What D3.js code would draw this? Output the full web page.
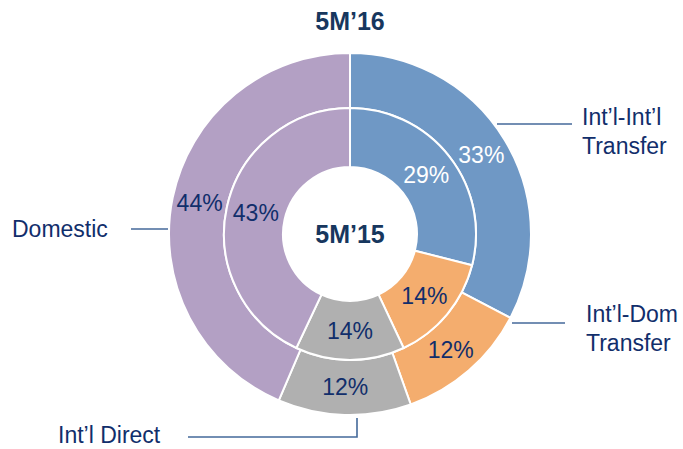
<!DOCTYPE html>
<html lang="en">
  <head>
    <meta charset="utf-8">
    <title>5M'16 vs 5M'15 donut</title>
    <script src="https://d3js.org/d3.v7.min.js"></script>
    <style>
      body { margin: 0; background: #fff; }
      svg { width: 683px; height: 449px; font-family: "Liberation Sans", Arial, sans-serif; }
    </style>
  </head>
  <body>
    <svg></svg>
    <script>
    // data
    const categories = ["Int'l-Int'l Transfer", "Int'l-Dom Transfer", "Int'l Direct", "Domestic"];
    const values16 = [33, 12, 12, 44];   // outer ring
    const values15 = [29, 14, 14, 43];   // inner ring
    const colors = ["#6f98c5", "#f4ad6e", "#b0b0b0", "#b3a0c4"];
    const labelColors = ["#ffffff", "#112e6b", "#112e6b", "#112e6b"];

    const svg = d3.select("svg");
    const cx = 350, cy = 234;
    const rHole = 67, rMid = 126, rOut = 181;
    const navy = "#112e6b";

    const pie = d3.pie().sort(null).value(d => d);
    const arcIn = d3.arc().innerRadius(rHole).outerRadius(rMid);
    const arcOut = d3.arc().innerRadius(rMid).outerRadius(rOut);

    const g = svg.append("g").attr("transform", `translate(${cx},${cy})`);

    // draw both rings
    [[values16, arcOut], [values15, arcIn]].forEach(([vals, arc]) => {
      const slices = pie(vals);
      g.selectAll(null)
        .data(slices)
        .enter()
        .append("path")
        .attr("d", arc)
        .attr("fill", (d, i) => colors[i])
        .attr("stroke", "#fff")
        .attr("stroke-width", 2);

      g.selectAll(null)
        .data(slices)
        .enter()
        .append("text")
        .attr("transform", d => `translate(${arc.centroid(d)})`)
        .attr("text-anchor", "middle")
        .attr("dy", "0.35em")
        .attr("font-size", 23)
        .attr("fill", (d, i) => labelColors[i])
        .text(d => d.data + "%");
    });

    // titles
    svg.append("text")
      .attr("x", cx).attr("y", 30)
      .attr("text-anchor", "middle")
      .attr("font-size", 25).attr("font-weight", "bold")
      .attr("fill", "#17375e")
      .text("5M\u201916");

    svg.append("text")
      .attr("x", cx).attr("y", cy).attr("dy", "0.35em")
      .attr("text-anchor", "middle")
      .attr("font-size", 25).attr("font-weight", "bold")
      .attr("fill", "#17375e")
      .text("5M\u201915");

    // leader lines + category labels
    const lineColor = "#44699a";
    const leaders = [
      { pts: [[497, 124], [572, 124]], lines: ["Int\u2019l-Int\u2019l", "Transfer"], x: 582, y: 125 },
      { pts: [[512, 323], [565, 323]], lines: ["Int\u2019l-Dom", "Transfer"], x: 586, y: 322 },
      { pts: [[168, 229], [131, 229]], lines: ["Domestic"], x: 12, y: 237 },
      { pts: [[357, 418], [357, 437], [188, 437]], lines: ["Int\u2019l Direct"], x: 58, y: 443 }
    ];

    leaders.forEach(l => {
      svg.append("path")
        .attr("d", d3.line()(l.pts))
        .attr("fill", "none")
        .attr("stroke", lineColor)
        .attr("stroke-width", 1.6);
      const t = svg.append("text")
        .attr("x", l.x).attr("y", l.y)
        .attr("font-size", 23)
        .attr("fill", navy);
      l.lines.forEach((s, i) => {
        t.append("tspan").attr("x", l.x).attr("dy", i === 0 ? 0 : 28.5).text(s);
      });
    });
    </script>
  </body>
</html>
